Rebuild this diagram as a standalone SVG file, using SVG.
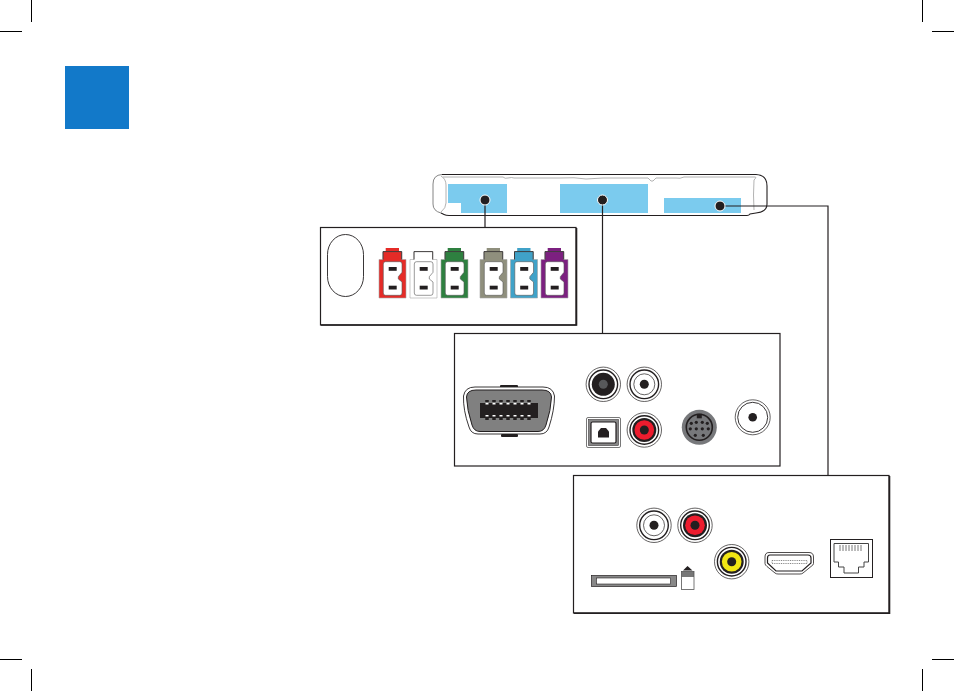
<svg xmlns="http://www.w3.org/2000/svg" width="954" height="691" viewBox="0 0 954 691">
<style>
.panel{fill:#fff;stroke:#231f20;stroke-width:1.2}
.thick{fill:none;stroke:#231f20;stroke-width:1.6}
.line{fill:none;stroke:#231f20;stroke-width:1.2}
.crop{stroke:#000;stroke-width:1;fill:none}
.dot{fill:#231f20;stroke:#fff;stroke-width:1}
.blue{fill:#7bcbee}
.pin{fill:#231f20}
</style>
<defs>
<g id="power">
<path d="M6.700 0H20V3.600H6.700Z"/>
<path d="M4 3.600H22.700V11.500H27V50H0V11.500H4Z" stroke="#a5a5a5" stroke-width=".6"/>
<path d="M4 11.500V3.600H22.700V11.500" fill="none" stroke="#231f20" stroke-width=".8"/>
<path d="M6.500 13.700H20.800Q23 13.700 23 16V24.300L19.300 28.700V31L23 34V45Q23 47.300 20.800 47.300H6.500Q4.300 47.300 4.300 45V16Q4.300 13.700 6.500 13.700Z" fill="#fff" stroke="#555" stroke-width=".6"/>
<rect class="pin" x="9.700" y="19" width="8" height="3.800"/>
<rect class="pin" x="9.700" y="37.700" width="8" height="3.800"/>
</g>
<g id="rca">
<circle r="17.200" fill="#fff" stroke="#231f20" stroke-width=".7"/>
<circle r="14.300" fill="#fff" stroke="#231f20" stroke-width="1.400"/>
</g>
</defs>

<g id="crop-marks">
<path class="crop" d="M31.500 0V22M0 31.500H22M922.500 0V22M932 31.500H954M0 659.500H22M31.500 669V691M932 659.500H954M922.500 669V691"/>
</g>
<g id="badge"><rect x="65" y="66" width="64" height="63" fill="#1279c9"/></g>

<g id="device">
<path d="M442 174.500H756Q767 175 767 186V204Q767 212 756 213L750 214Q749 215.500 747 215.500H449Q446 215.500 444 214.500L441 213Q433 211 433 204V184Q433 175 442 174.500Z" fill="#fff" stroke="none"/>
<path d="M441 213Q433 211 433 204V184Q433 175 442 174.500" fill="none" stroke="#777" stroke-width=".9"/>
<path d="M442 174.500H756Q767 175 767 186V204Q767 212 756 213L750 214Q749 215.500 747 215.500H449Q446 215.500 444 214.500L441 213" fill="none" stroke="#231f20" stroke-width="1.100"/>
<path d="M443 177H503Q505 179 508 178Q512 177 514 178H560Q575 177 586 179L603 178 648 178 651 181H653L656 178H676Q680 179 684 177H755Q757 177 754 180Q753 195 754 210" fill="none" stroke="#a0a0a0" stroke-width=".8"/>
<path d="M441 176Q446 179 446 185V203Q446 208 441 212" fill="none" stroke="#a0a0a0" stroke-width=".8"/>
<path class="blue" d="M448 184H507V213H461V203H448Z"/>
<rect class="blue" x="560" y="184" width="88" height="29"/>
<rect class="blue" x="664" y="198" width="77" height="15"/>
</g>

<g id="connectors">
<path class="line" d="M485 200V227.500M602.500 200V333.500M720 206H828V475.500"/>
<circle class="dot" cx="485" cy="200" r="5"/>
<circle class="dot" cx="602.500" cy="200" r="5"/>
<circle class="dot" cx="720" cy="206" r="5"/>
</g>

<g id="panel-power">
<rect x="320.500" y="227.500" width="255.500" height="97.500" class="panel"/>
<path class="thick" d="M321 325H576.500V228"/>
<rect x="327.500" y="234.500" width="36" height="62" rx="18" ry="20" fill="#fff" stroke="#231f20" stroke-width=".9"/>
<use href="#power" x="379" y="248" fill="#e52b27"/>
<use href="#power" x="410" y="248" fill="#fff"/>
<use href="#power" x="441" y="248" fill="#2e8040"/>
<use href="#power" x="480" y="248" fill="#8f8f7d"/>
<use href="#power" x="510.500" y="248" fill="#40a2c8"/>
<use href="#power" x="541" y="248" fill="#7c2080"/>
</g>

<g id="panel-av">
<rect x="454.500" y="333.500" width="325.500" height="132.500" class="panel"/>
<g id="vga">
<rect x="500" y="385" width="18" height="3" rx="1" fill="#231f20"/>
<rect x="501" y="434" width="17" height="3" rx="1" fill="#231f20"/>
<path d="M475 387H543Q553 387 554.500 396Q554.500 410 549 427Q547 434 540 434H478Q471 434 469 427Q463 410 463.500 396Q465 387 475 387Z" fill="#fff" stroke="#231f20" stroke-width=".9"/>
<path d="M476 390H542Q551 390 551.500 397Q551 410 546 425Q544 431.500 538 431.500H480Q474 431.500 472 425Q467 410 466.500 397Q467 390 476 390Z" fill="#808080" stroke="#231f20" stroke-width="1"/>
<rect x="480" y="403" width="58" height="15" fill="#231f20"/>
<path d="M487 400V403M494 400V403M501 400V403M508 400V403M515 400V403M522 400V403M529 400V403M487 418V421M494 418V421M501 418V421M508 418V421M515 418V421M522 418V421M529 418V421" stroke="#231f20" stroke-width="3.500" stroke-dasharray="2 1.500" fill="none"/>
<path d="M487 403V406M494 403V406M501 403V406M508 403V406M515 403V406M522 403V406M529 403V406M487 415V418M494 415V418M501 415V418M508 415V418M515 415V418M522 415V418M529 415V418" stroke="#fff" stroke-width="3" stroke-dasharray="1.500 1.500" fill="none"/>
</g>
<g id="rca-black" transform="translate(603.300 384.300)">
<use href="#rca"/>
<circle r="11.500" fill="#231f20"/>
<circle r="4.500" fill="#58595b"/>
</g>
<g id="rca-white-a" transform="translate(644.300 384.300)">
<use href="#rca"/>
<circle r="10.500" fill="#fff" stroke="#231f20" stroke-width=".7"/>
<circle r="4.500" fill="#231f20"/>
</g>
<g id="rca-red-a" transform="translate(644.300 430)">
<use href="#rca"/>
<circle r="12" fill="#231f20"/>
<circle r="9.800" fill="#ed1c2e"/>
<circle r="4.500" fill="#231f20"/>
</g>
<g id="optical">
<rect x="586.500" y="417.500" width="34" height="30" rx="1.500" fill="#fff" stroke="#555" stroke-width=".8"/>
<rect x="588.500" y="419.500" width="30" height="26" fill="#888" stroke="#231f20" stroke-width=".5"/>
<rect x="591" y="422" width="25" height="21" rx="1.500" fill="#fff" stroke="#231f20" stroke-width="1.200"/>
<path d="M598 437.500V431.500L601 428H606L609 431.500V437.500Z" fill="#231f20"/>
</g>
<g id="mini-din" transform="translate(699.300 427.300)">
<circle r="17.500" fill="#77787b"/>
<circle r="13" fill="#77787b" stroke="#231f20" stroke-width="1.600"/>
<rect x="-2.500" y="-13.500" width="5" height="4.500" fill="#231f20"/>
<g fill="#231f20">
<circle cx="-8" cy="-4" r="1.600"/><circle cx="-3" cy="-5" r="1.600"/><circle cx="3" cy="-5" r="1.600"/><circle cx="8" cy="-4" r="1.600"/>
<circle cx="-9" cy="1.500" r="1.600"/><circle cx="-3" cy="1.500" r="1.600"/><circle cx="3" cy="1.500" r="1.600"/><circle cx="9" cy="1.500" r="1.600"/>
<circle cx="-4" cy="8" r="1.600"/><circle cx="4" cy="8" r="1.600"/>
</g>
</g>
<g id="coax" transform="translate(752.700 417.300)">
<circle r="17.500" fill="#fff" stroke="#231f20" stroke-width=".7"/>
<circle r="15" fill="#fff" stroke="#231f20" stroke-width=".9"/>
<circle r="4.300" fill="#231f20"/>
</g>
</g>

<g id="panel-digital">
<rect x="573.500" y="475.500" width="315.500" height="137.500" class="panel"/>
<path class="thick" d="M574 613.200H889.500V476"/>
<g id="rca-white-b" transform="translate(654 525.300)">
<use href="#rca"/>
<circle r="10.500" fill="#fff" stroke="#231f20" stroke-width=".7"/>
<circle r="4.500" fill="#231f20"/>
</g>
<g id="rca-red-b" transform="translate(695 525.300)">
<use href="#rca"/>
<circle r="12" fill="#231f20"/>
<circle r="9.800" fill="#ed1c2e"/>
<circle r="4.500" fill="#231f20"/>
</g>
<g id="rca-yellow" transform="translate(731.700 561.700)">
<use href="#rca"/>
<circle r="12" fill="#231f20"/>
<circle r="9.800" fill="#f2e614"/>
<circle r="4.500" fill="#231f20"/>
</g>
<g id="card-slot">
<rect x="591.500" y="575.500" width="85" height="11" fill="#888" stroke="#231f20" stroke-width=".7"/>
<rect x="596.500" y="578" width="74" height="6" fill="#fff" stroke="#231f20" stroke-width=".6"/>
<path d="M683 570.500L687.500 566 692.500 570.500Z" fill="#231f20"/>
<rect x="681.500" y="571.500" width="12.500" height="5.500" fill="#777"/>
<rect x="681.500" y="571.500" width="12.500" height="18" fill="none" stroke="#555" stroke-width=".8"/>
</g>
<g id="hdmi">
<path d="M769 552.500H809Q813.500 552.500 813.500 557V563.500Q813.500 565 811 566.500L803 573Q802 574 800 574H778Q776 574 775 573L767 566.500Q765 565 765 563.500V557Q765 552.500 769 552.500Z" fill="#fff" stroke="#231f20" stroke-width=".8"/>
<path d="M770 555H808Q811 555 811 558V563L802 571H776L767.500 563V558Q767.500 555 770 555Z" fill="#fff" stroke="#231f20" stroke-width="1.200"/>
<rect x="772" y="560.500" width="35" height="3" fill="#fff" stroke="#555" stroke-width=".7" stroke-dasharray="1 .8"/>
</g>
<g id="rj45">
<rect x="830.500" y="539.500" width="42" height="38" fill="#fff" stroke="#231f20" stroke-width="1"/>
<path d="M834 543.500H868.500V562H864V567H858.500V573H844V567H838.500V562H834Z" fill="#fff" stroke="#444" stroke-width="1"/>
<path d="M840 545V551M843 545V551M846 545V551M849 545V551M852 545V551M855 545V551M858 545V551M861 545V551" stroke="#555" stroke-width=".8" fill="none"/>
</g>
</g>
</svg>
